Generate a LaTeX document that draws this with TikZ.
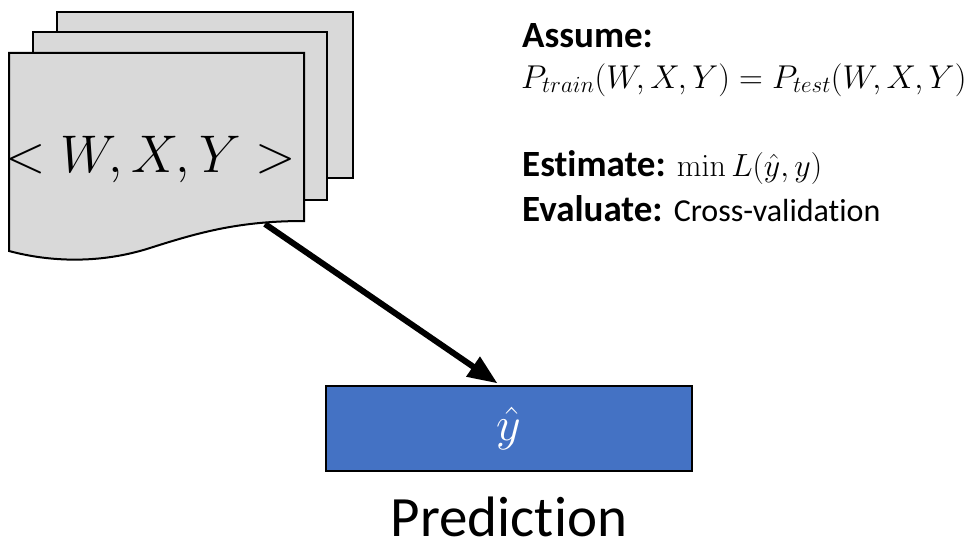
\documentclass[tikz,border=0pt]{standalone}
\usepackage{fix-cm}
\usepackage{xcolor}
\usepackage{amsmath}
\usepackage[no-math]{fontspec}
\setmainfont{Carlito}[Ligatures=NoCommon]
\usepackage{tikz}
\usetikzlibrary{shapes.geometric, arrows}
\definecolor{pagegray}{HTML}{D9D9D9}
\definecolor{predblue}{HTML}{4472C4}

\begin{document}
\begin{tikzpicture}[x=1pt, y=-1pt, node distance=107.5pt]
	\tikzstyle{page} = [draw=black, fill=pagegray, line width=2pt]
	
	\tikzstyle{pred} = [rectangle, minimum width=366pt, minimum height=85pt, draw=black, fill=predblue, line width=2pt, text=white, font=\fontsize{48}{56}\selectfont]
	
	\tikzstyle{caption} = [anchor=base, inner sep=0pt, font=\fontsize{57}{66}\selectfont]
	
	\tikzstyle{note} = [anchor=base west, inner sep=0pt, font=\fontsize{37}{44}\selectfont]
	
	\tikzstyle{arrow} = [->,>= triangle 45, line width=6pt]
	
	\useasboundingbox (0,0) rectangle (968,543);
	
	% Stack of pages
	\draw [page] (57,12) rectangle (353,178);
	\draw [page] (33,32) rectangle (327,200);
	\draw [page] (9,53) -- (304,53) -- (304,221) .. controls (240,221) and (200,232) .. (150,248) .. controls (100,264) and (50,262) .. (9,251) -- cycle;
	\node (data) [anchor=base] at (151,172) {\fontsize{53}{62}\selectfont $<W,X,Y>$};
	\coordinate (datafoot) at (265,224);
	
	% Prediction box
	\node (pred) [pred] at (509,428.5) {$\hat{y}$};
	\node (predlabel) [below of = pred, caption] {Prediction};
	\coordinate (predtip) at (497,383);
	
	% Notes
	\node (assume) [note] at (522,48) {\textbf{Assume:}};
	\node (equal) [note, font=\fontsize{33}{40}\selectfont] at (521,88) {$P_{train}(W,X,Y) = P_{test}(W,X,Y)$};
	\node (estimate) [note] at (522,176) {\textbf{Estimate:} {\fontsize{32}{38}\selectfont$\min L(\hat{y},y)$}};
	\node (evaluate) [note] at (522,221) {\textbf{Evaluate:} {\fontsize{32}{38}\selectfont Cross-validation}};
	
	% Arrows
	\draw [arrow] (datafoot) -- (predtip);
\end{tikzpicture}
\end{document}
